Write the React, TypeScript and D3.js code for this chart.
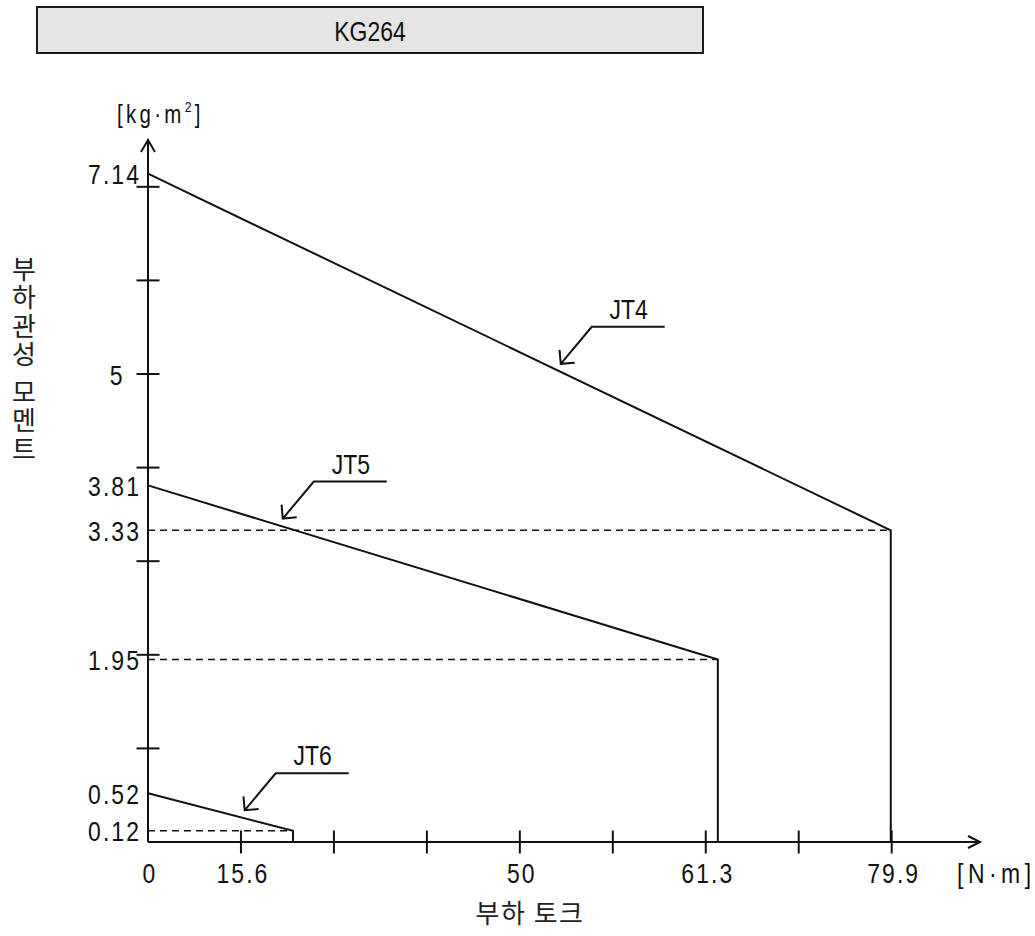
import { useEffect, useRef } from 'react'
import * as d3 from 'd3'

const TITLE = 'KG264'

// per joint: inertia at zero torque, inertia at max torque, max torque
const joints = ['JT4', 'JT5', 'JT6']
const inertiaAtZero = [7.14, 3.81, 0.52]
const inertiaAtMax = [3.33, 1.95, 0.12]
const maxTorque = [79.9, 61.3, 15.6]
const labelAtTorque = [44.4, 14.5, 10.4]

const xTickValues = [0, 10, 20, 30, 40, 50, 60, 70, 80]
const xTickLabels = ['0', '15.6', '', '', '50', '', '61.3', '', '79.9']
const yTickValues = [1, 2, 3, 4, 5, 6, 7]
const yLabelValues = [7.14, 5, 3.81, 3.33, 1.95, 0.52, 0.12]

const xTitle = '부하 토크'
const yTitle = ['부하관성', '모멘트']

const NUM_FONT = '"Liberation Sans", Arial, sans-serif'
const KR_FONT = '"Noto Sans CJK KR", sans-serif'
const SX = 0.82 // narrow the latin glyphs like the original's font

export default function App() {
  const svgRef = useRef<SVGSVGElement>(null)

  useEffect(() => {
    if (!svgRef.current) return
    const svg = d3.select(svgRef.current)
    svg.selectAll('*').remove()

    const ink = '#111'
    const x = d3.scaleLinear().domain([0, 89.5]).range([148, 980])
    const y = d3.scaleLinear().domain([0, 7.5]).range([842, 140])
    const x0 = x(0)
    const y0 = y(0)
    const tick = 11.5

    const narrow = (px: number, py: number, str: string, anchor = 'start', size = 28, spacing = 0) =>
      svg.append('text')
        .attr('transform', `translate(${px},${py}) scale(${SX},1)`)
        .attr('text-anchor', anchor)
        .attr('font-family', NUM_FONT).attr('font-size', size)
        .attr('letter-spacing', spacing).attr('fill', ink)
        .text(str)

    // title box
    svg.append('rect')
      .attr('x', 37).attr('y', 7).attr('width', 666).attr('height', 46)
      .attr('fill', '#e5e5e5').attr('stroke', '#1a1a1a').attr('stroke-width', 2)
    narrow(370, 41, TITLE, 'middle')

    // axes with open arrowheads
    const xEnd = x.range()[1]
    const yEnd = y.range()[1]
    svg.append('path')
      .attr('d', `M${x0},${y0}H${xEnd}M${xEnd - 12},${y0 - 6}L${xEnd},${y0}L${xEnd - 12},${y0 + 6}`)
      .attr('fill', 'none').attr('stroke', ink).attr('stroke-width', 2)
    svg.append('path')
      .attr('d', `M${x0},${y0}V${yEnd}M${x0 - 7},${yEnd + 12}L${x0},${yEnd}L${x0 + 7},${yEnd + 12}`)
      .attr('fill', 'none').attr('stroke', ink).attr('stroke-width', 2)

    // ticks
    xTickValues.filter((v) => v > 0).forEach((v) => {
      svg.append('line')
        .attr('x1', x(v)).attr('x2', x(v))
        .attr('y1', y0 - tick).attr('y2', y0 + tick)
        .attr('stroke', ink).attr('stroke-width', 2)
    })
    yTickValues.forEach((v) => {
      svg.append('line')
        .attr('x1', x0 - tick).attr('x2', x0 + tick)
        .attr('y1', y(v)).attr('y2', y(v))
        .attr('stroke', ink).attr('stroke-width', 2)
    })

    // tick labels
    xTickValues.forEach((v, i) => {
      if (!xTickLabels[i]) return
      narrow(x(v) + 2, y0 + 41, xTickLabels[i], 'middle', 28, 2.5)
    })
    yLabelValues.forEach((v) => {
      const onTick = yTickValues.includes(v)
      narrow(onTick ? x0 - tick - 12 : x0 - 7, y(v) + 10.5, String(v), 'end', 28, 2.5)
    })

    // units
    const ky = narrow(117, 123, '', 'start', 25, 4)
    ky.append('tspan').text('[kg·m')
    ky.append('tspan').attr('font-size', 15).attr('dy', -11).text('2')
    ky.append('tspan').attr('dy', 11).text(']')

    narrow(957, 883, '[N·m]', 'start', 28, 5.5)

    // axis titles
    svg.append('text')
      .attr('x', 530).attr('y', 923)
      .attr('text-anchor', 'middle')
      .attr('font-family', KR_FONT).attr('font-size', 26)
      .attr('letter-spacing', 1.5).attr('fill', '#222')
      .text(xTitle)

    yTitle.forEach((word, i) => {
      svg.append('text')
        .attr('x', 24).attr('y', i === 0 ? 256 : 379)
        .attr('writing-mode', 'vertical-rl')
        .attr('font-family', KR_FONT).attr('font-size', 26)
        .attr('letter-spacing', 2.5).attr('fill', '#222')
        .text(word)
    })

    // series
    const line = d3.line<[number, number]>().x((d) => x(d[0])).y((d) => y(d[1]))
    joints.forEach((name, i) => {
      const hi = inertiaAtZero[i]
      const lo = inertiaAtMax[i]
      const tq = maxTorque[i]

      svg.append('line')
        .attr('x1', x0).attr('x2', x(tq))
        .attr('y1', y(lo)).attr('y2', y(lo))
        .attr('stroke', ink).attr('stroke-width', 1.6)
        .attr('stroke-dasharray', '7,5')

      svg.append('path')
        .attr('d', line([[0, hi], [tq, lo], [tq, 0]]))
        .attr('fill', 'none').attr('stroke', ink).attr('stroke-width', 2)

      // leader with arrow pointing at the line
      const at = labelAtTorque[i]
      const tipX = x(at)
      const tipY = y(hi + (lo - hi) * (at / tq)) - 8
      const ex = tipX + 31
      const ey = tipY - 37
      const ang = Math.atan2(ey - tipY, ex - tipX)
      const wing = (a: number) => [tipX + 14 * Math.cos(a), tipY + 14 * Math.sin(a)]
      const [w1x, w1y] = wing(ang - Math.PI / 4)
      const [w2x, w2y] = wing(ang + Math.PI / 4)
      svg.append('path')
        .attr('d', `M${ex + 73},${ey}H${ex}L${tipX},${tipY}M${w1x},${w1y}L${tipX},${tipY}L${w2x},${w2y}`)
        .attr('fill', 'none').attr('stroke', ink).attr('stroke-width', 2)
      narrow(ex + 37, ey - 8, name, 'middle')
    })
  }, [])

  return (
    <svg
      ref={svgRef}
      width={1035}
      height={936}
      style={{ position: 'absolute', left: 0, top: 0, background: '#fff' }}
    />
  )
}
